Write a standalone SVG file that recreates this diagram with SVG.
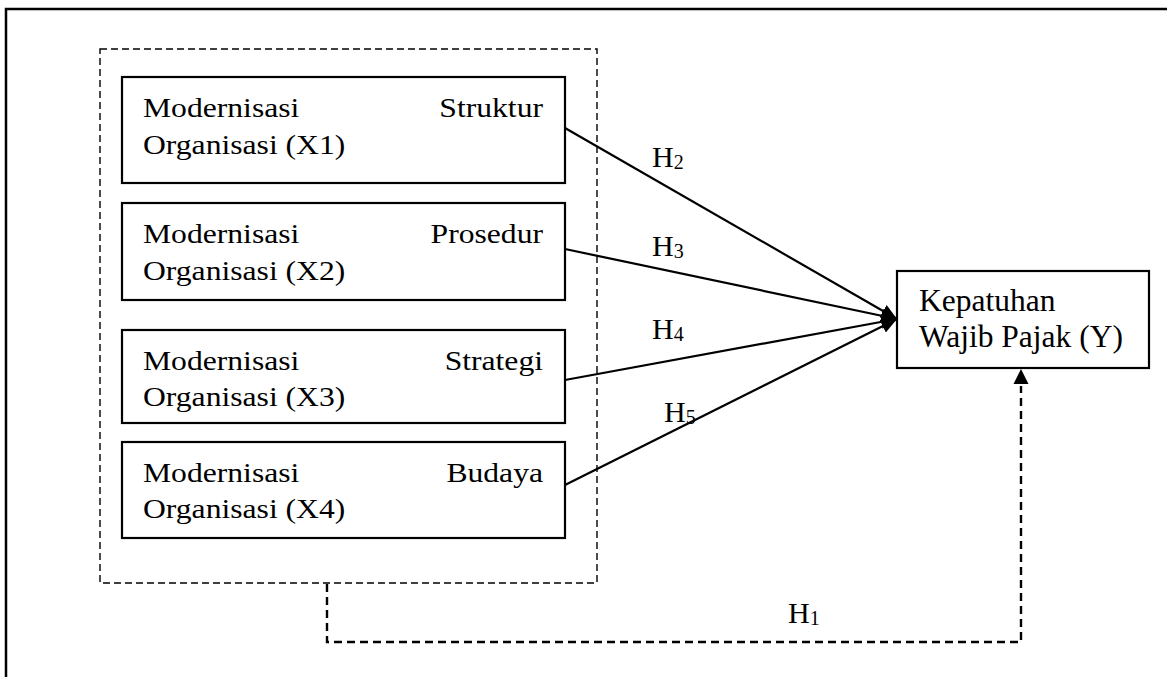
<svg xmlns="http://www.w3.org/2000/svg" width="1167" height="677" viewBox="0 0 1167 677">
<style>
.box{fill:#fff;stroke:#000;stroke-width:2.2}
.t{font-family:"Liberation Serif","Times New Roman",serif;font-size:28px;fill:#000}
.ty{font-family:"Liberation Serif","Times New Roman",serif;font-size:31.5px;fill:#000}
.h{font-family:"Liberation Serif","Times New Roman",serif;font-size:30px;fill:#000}
.sub{font-size:20px}
.conn{stroke:#000;stroke-width:2.2;fill:none}
.dash{stroke:#000;stroke-width:2.4;fill:none;stroke-dasharray:8 5}
</style>
<defs>
<marker id="arr" markerUnits="userSpaceOnUse" markerWidth="18" markerHeight="16" refX="16" refY="7" orient="auto">
<path d="M0,0 L16,7 L0,14 z" fill="#000"/>
</marker>
</defs>
<rect x="6" y="9" width="1180" height="690" fill="#fff" stroke="#000" stroke-width="2.5"/>
<g id="group">
<rect x="100" y="49" width="497" height="534" fill="none" stroke="#000" stroke-width="1.4" stroke-dasharray="7 4"/>
</g>
<g id="x1">
<rect class="box" x="122" y="77" width="443" height="106"/>
<text class="t" transform="translate(143,117) scale(1.13,1)">Modernisasi</text>
<text class="t" text-anchor="end" transform="translate(543,117) scale(1.13,1)">Struktur</text>
<text class="t" transform="translate(143,154) scale(1.13,1)">Organisasi (X1)</text>
</g>
<g id="x2">
<rect class="box" x="122" y="203" width="443" height="97"/>
<text class="t" transform="translate(143,243) scale(1.13,1)">Modernisasi</text>
<text class="t" text-anchor="end" transform="translate(543,243) scale(1.13,1)">Prosedur</text>
<text class="t" transform="translate(143,280) scale(1.13,1)">Organisasi (X2)</text>
</g>
<g id="x3">
<rect class="box" x="122" y="330" width="443" height="93"/>
<text class="t" transform="translate(143,370) scale(1.13,1)">Modernisasi</text>
<text class="t" text-anchor="end" transform="translate(543,370) scale(1.13,1)">Strategi</text>
<text class="t" transform="translate(143,406) scale(1.13,1)">Organisasi (X3)</text>
</g>
<g id="x4">
<rect class="box" x="122" y="442" width="443" height="96"/>
<text class="t" transform="translate(143,482) scale(1.13,1)">Modernisasi</text>
<text class="t" text-anchor="end" transform="translate(543,482) scale(1.13,1)">Budaya</text>
<text class="t" transform="translate(143,518) scale(1.13,1)">Organisasi (X4)</text>
</g>
<g id="y">
<rect class="box" x="897" y="271" width="252" height="97"/>
<text class="ty" x="919" y="311">Kepatuhan</text>
<text class="ty" x="919" y="347">Wajib Pajak (Y)</text>
</g>
<g id="connectors">
<line class="conn" x1="565" y1="128" x2="897" y2="319" marker-end="url(#arr)"/>
<line class="conn" x1="565" y1="249" x2="897" y2="319" marker-end="url(#arr)"/>
<line class="conn" x1="565" y1="380" x2="897" y2="319" marker-end="url(#arr)"/>
<line class="conn" x1="565" y1="485" x2="897" y2="319" marker-end="url(#arr)"/>
<path class="dash" d="M327,584 L327,642 L1021,642 L1021,386"/>
<path d="M1013.5,384 L1021,369 L1028.5,384 z" fill="#000"/>
<text class="h" x="652" y="167">H<tspan class="sub" dy="2">2</tspan></text>
<text class="h" x="652" y="256">H<tspan class="sub" dy="2">3</tspan></text>
<text class="h" x="652" y="339">H<tspan class="sub" dy="2">4</tspan></text>
<text class="h" x="664" y="422">H<tspan class="sub" dy="2">5</tspan></text>
<text class="h" x="788" y="623">H<tspan class="sub" dy="2">1</tspan></text>
</g>
</svg>
